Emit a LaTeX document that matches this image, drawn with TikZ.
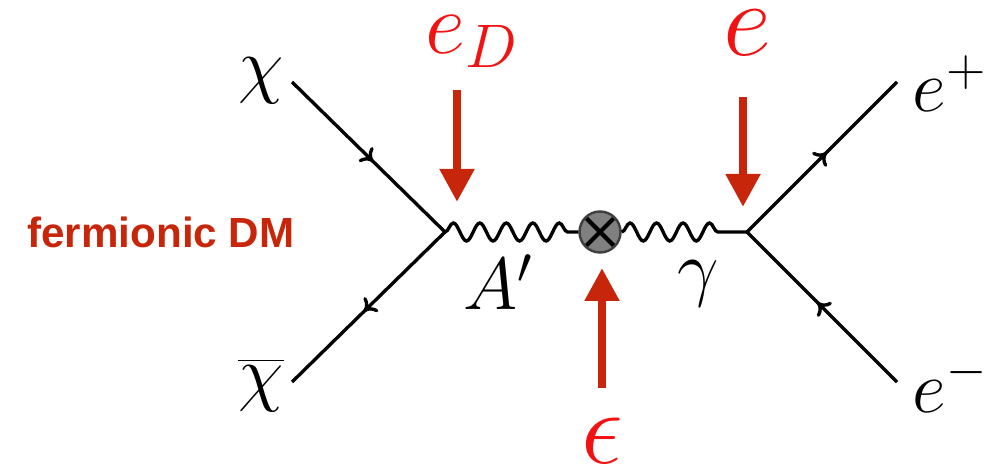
\RequirePackage{fix-cm}
\documentclass[tikz,border=0pt]{standalone}
\usepackage{fontspec}
\usepackage{tikz}
\usepackage{xcolor}
\usetikzlibrary{arrows.meta,positioning,decorations.pathmorphing,decorations.markings}
\newfontfamily\dmfont{Liberation Sans}
\definecolor{kickred}{HTML}{C8260A}
\definecolor{labelred}{HTML}{F21212}
\definecolor{blobgray}{HTML}{808080}
\definecolor{ink}{HTML}{000000}
\tikzset{
  fermion/.style={draw=ink,line width=0.95pt,postaction={decorate},
                  decoration={markings,mark=at position 0.53 with
                  {\arrow{Computer Modern Rightarrow[length=3.2pt,width=5.7pt]}}}},
  photon/.style={draw=ink,line width=0.95pt,decorate,
                 decoration={snake,amplitude=0.09cm,segment length=0.265cm}},
  kickarr/.style={draw=kickred,line width=2.3pt,
                  -{Triangle[length=0.33cm,width=0.33cm]}},
  partlabel/.style={inner sep=0pt,text=ink,font=\fontsize{21}{25}\selectfont},
  couplabel/.style={inner sep=0pt,text=labelred},
  mixblob/.style={circle,draw=ink!75,fill=blobgray,line width=0.7pt,
                  minimum size=0.41cm,inner sep=0pt,
                  path picture={\draw[ink,line width=1.2pt]
                    (path picture bounding box.north west) -- (path picture bounding box.south east)
                    (path picture bounding box.south west) -- (path picture bounding box.north east);}}
}

\begin{document}
\begin{tikzpicture}
      \useasboundingbox (0,0) rectangle (9.97,4.68);

      % vertices and the kinetic mixing blob
      \coordinate (vL) at (4.45,2.36);
      \coordinate (vR) at (7.47,2.36);
      \node[mixblob] (mix) at (6.00,2.36) {};

      % external legs
      \coordinate (chiin) at (2.92,3.86);
      \coordinate (chibarin) at (2.92,0.86);
      \coordinate (epout) at (8.97,3.86);
      \coordinate (emout) at (8.97,0.86);

      \draw[fermion] (chiin) -- (vL);
      \draw[fermion] (vL) -- (chibarin);
      \draw[fermion] (vR) -- (epout);
      \draw[fermion] (emout) -- (vR);

      \draw[photon] (vL) -- (mix);
      \draw[photon,decoration={post length=0.2cm}] (mix) -- (vR);

      \node[partlabel] (chi) at (2.61,3.87) {$\chi$};
      \node[partlabel] (chibar) at (2.61,0.83) {$\overline{\chi}$};
      \node[partlabel,anchor=base west] (ep) at (9.12,3.56) {$e^+$};
      \node[partlabel,anchor=base west] (em) at (9.12,0.56) {$e^-$};
      \node[partlabel,anchor=base west] (aprime) at (4.63,1.58) {$A'$};
      \node[partlabel,anchor=base west] (gam) at (6.77,1.75) {$\gamma$};

      % couplings
      \node[couplabel,anchor=base west,font=\fontsize{25}{30}\selectfont] (eD) at (4.25,4.14) {$e_D$};
      \node[couplabel,anchor=base,font=\fontsize{30}{36}\selectfont] (e) at (7.47,4.12) {$e$};
      \node[couplabel,anchor=base,font=\fontsize{30}{36}\selectfont] (eps) at (6.02,0.05) {$\epsilon$};

      \coordinate (eDtop) at (4.57,3.78);
      \coordinate (eDtip) at (4.57,2.66);
      \coordinate (etop) at (7.43,3.71);
      \coordinate (etip) at (7.43,2.61);
      \coordinate (epsbot) at (6.02,0.80);
      \coordinate (epstip) at (6.02,2.00);
      \draw[kickarr] (eDtop) -- (eDtip);
      \draw[kickarr] (etop) -- (etip);
      \draw[kickarr] (epsbot) -- (epstip);

      \node[anchor=base,inner sep=0pt,text=kickred,font=\dmfont\bfseries\fontsize{12}{14}\selectfont]
        (dm) at (1.61,2.20) {fermionic DM};
\end{tikzpicture}
\end{document}
